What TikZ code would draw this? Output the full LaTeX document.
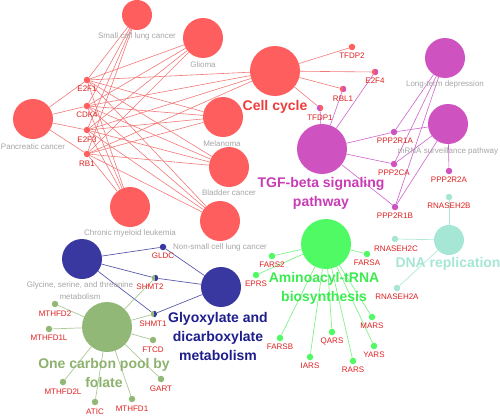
\documentclass[tikz,border=0pt]{standalone}
\usepackage{fontspec}
\setmainfont{Liberation Sans}
\pgfdeclarelayer{bg}
\pgfsetlayers{bg,main}
\definecolor{cred}{RGB}{255,94,94}
\definecolor{cmag}{RGB}{207,82,193}
\definecolor{cgrn}{RGB}{80,250,100}
\definecolor{cteal}{RGB}{165,230,212}
\definecolor{cblue}{RGB}{56,56,160}
\definecolor{coli}{RGB}{146,184,120}
\definecolor{cgene}{RGB}{222,32,32}
\definecolor{cgray}{RGB}{165,165,165}
\definecolor{ered}{RGB}{242,120,120}
\definecolor{emag}{RGB}{205,100,205}
\definecolor{eblue}{RGB}{90,90,170}
\definecolor{egrn}{RGB}{130,240,140}
\definecolor{eoli}{RGB}{170,200,150}
\definecolor{eteal}{RGB}{175,232,218}
\definecolor{tred}{RGB}{240,60,60}
\definecolor{tmag}{RGB}{200,60,180}
\definecolor{tgrn}{RGB}{60,235,80}
\definecolor{tteal}{RGB}{165,230,212}
\definecolor{tblue}{RGB}{30,30,140}
\definecolor{toli}{RGB}{140,178,110}
\tikzset{
  big/.style={circle,inner sep=0pt,minimum size=50pt,fill=#1},
  med/.style={circle,inner sep=0pt,minimum size=40pt,fill=#1},
  sml/.style={circle,inner sep=0pt,minimum size=30pt,fill=#1},
  gdot/.style={circle,inner sep=0pt,minimum size=6.5pt,fill=#1},
  half/.style 2 args={circle,inner sep=0pt,minimum size=6.5pt,fill=#1,
    path picture={\fill[#2] (path picture bounding box.north) rectangle (path picture bounding box.south east);}},
  gl/.style={text=cgene,font=\fontsize{8}{9}\selectfont,inner sep=0pt},
  pl/.style={text=cgray,font=\fontsize{8}{12}\selectfont,inner sep=0pt,align=center},
  tl/.style={text=#1,font=\bfseries\fontsize{14}{19}\selectfont,align=center,inner sep=0pt},
  er/.style={draw=ered,line width=0.6pt},
  em/.style={draw=emag,line width=0.6pt},
  eb/.style={draw=eblue,line width=0.7pt},
  eg/.style={draw=egrn,line width=0.7pt},
  eo/.style={draw=eoli,line width=0.7pt},
  et/.style={draw=eteal,line width=0.7pt},
}
\begin{document}
\begin{tikzpicture}[x=1pt,y=-1pt]
\useasboundingbox (0,0) rectangle (500,415);
% ---- pathway circles
\node[sml=cred] (sclc) at (137,15) {};
\node[med=cred] (gli) at (203,38) {};
\node[med=cred] (pan) at (33,119) {};
\node[med=cred] (mel) at (223,117) {};
\node[med=cred] (bla) at (229,167) {};
\node[med=cred] (cml) at (130,207) {};
\node[med=cred] (nsclc) at (220,221) {};
\node[big=cred] (cc) at (275,71) {};
\node[med=cmag] (ltd) at (445,58) {};
\node[med=cmag] (mrna) at (448,124) {};
\node[big=cmag] (tgf) at (322,149) {};
\node[big=cgrn] (aa) at (326,244) {};
\node[sml=cteal] (dna) at (449,240) {};
\node[med=cblue] (gly) at (82,259) {};
\node[med=cblue] (glx) at (221,287) {};
\node[big=coli] (oc) at (107,327) {};
% ---- gene dots
\node[gdot=cred] (e2f1) at (87,80) {};
\node[gdot=cred] (cdk4) at (87,106) {};
\node[gdot=cred] (e2f3) at (87,130) {};
\node[gdot=cred] (rb1) at (87,154) {};
\node[gdot=cred] (tfdp2) at (352,47) {};
\node[half={cred}{cmag}] (e2f4) at (375,72) {};
\node[half={cred}{cmag}] (rbl1) at (343,89) {};
\node[half={cmag}{cred}] (tfdp1) at (320,108) {};
\node[gdot=cmag] (p1a) at (394,132) {};
\node[gdot=cmag] (pca) at (394,164) {};
\node[gdot=cmag] (p1b) at (395,207) {};
\node[gdot=cmag] (p2a) at (449,171) {};
\node[gdot=cteal] (rn2b) at (449,197) {};
\node[gdot=cteal] (rn2c) at (395,239) {};
\node[gdot=cteal] (rn2a) at (397,288) {};
\node[gdot=cgrn] (fars2) at (272,256) {};
\node[gdot=cgrn] (eprs) at (256,275) {};
\node[gdot=cgrn] (farsa) at (367,254) {};
\node[gdot=cgrn] (mars) at (372,317) {};
\node[gdot=cgrn] (farsb) at (280,338) {};
\node[gdot=cgrn] (qars) at (332,332) {};
\node[gdot=cgrn] (iars) at (310,357) {};
\node[gdot=cgrn] (rars) at (353,361) {};
\node[gdot=cgrn] (yars) at (374,346) {};
\node[gdot=cblue] (gldc) at (163,247) {};
\node[half={coli}{cblue}] (shmt2) at (155,278) {};
\node[half={coli}{cblue}] (shmt1) at (154,314) {};
\node[gdot=coli] (mthfd2) at (55,304) {};
\node[gdot=coli] (mthfd1l) at (49,329) {};
\node[gdot=coli] (ftcd) at (153,340) {};
\node[gdot=coli] (mthfd2l) at (63,382) {};
\node[gdot=coli] (gart) at (161,379) {};
\node[gdot=coli] (atic) at (95,402) {};
\node[gdot=coli] (mthfd1) at (132,399) {};
% ---- edges
\begin{pgfonlayer}{bg}
\foreach \g in {e2f1,cdk4,e2f3,rb1}
  \foreach \p in {sclc,gli,pan,mel,bla,cml,nsclc,cc}
    \draw[er] (\g) -- (\p);
\foreach \g in {tfdp2,e2f4,rbl1,tfdp1} \draw[er] (cc) -- (\g);
\foreach \g in {tfdp1,rbl1,e2f4,p1a,pca,p1b} \draw[em] (tgf) -- (\g);
\foreach \g in {p1a,pca,p1b} \draw[em] (ltd) -- (\g);
\foreach \g in {p1a,pca,p1b,p2a} \draw[em] (mrna) -- (\g);
\foreach \g in {rn2b,rn2c,rn2a} \draw[et] (dna) -- (\g);
\foreach \g in {fars2,eprs,farsa,mars,farsb,qars,iars,rars,yars} \draw[eg] (aa) -- (\g);
\foreach \g in {gldc,shmt2,shmt1} \draw[eb] (gly) -- (\g);
\foreach \g in {gldc,shmt2,shmt1} \draw[eb] (glx) -- (\g);
\foreach \g in {shmt2,shmt1,mthfd2,mthfd1l,ftcd,mthfd2l,gart,atic,mthfd1} \draw[eo] (oc) -- (\g);
\end{pgfonlayer}
% ---- pathway labels (gray)
\node[pl] (lsclc) at (137,36) {Small cell lung cancer};
\node[pl] (lgli) at (203,65) {Glioma};
\node[pl] (lpan) at (33,147) {Pancreatic cancer};
\node[pl] (lmel) at (222,144) {Melanoma};
\node[pl] (lbla) at (229,193) {Bladder cancer};
\node[pl] (lcml) at (130,233) {Chronic myeloid leukemia};
\node[pl] (lnsclc) at (220,247) {Non-small cell lung cancer};
\node[pl] (lltd) at (445,84) {Long-term depression};
\node[pl] (lmrna) at (448,151) {mRNA surveillance pathway};
\node[pl] (lgly) at (80,291) {Glycine, serine, and threonine\\metabolism};
% ---- title labels
\node[tl=tred] (lcc) at (275,107) {Cell cycle};
\node[tl=tmag] (ltgf) at (321,193.5) {TGF-beta signaling\\pathway};
\node[tl=tgrn] (laa) at (324,288.5) {Aminoacyl-tRNA\\biosynthesis};
\node[tl=tteal] (ldna) at (448,264) {DNA replication};
\node[tl=tblue] (lglx) at (218,336) {Glyoxylate and\\dicarboxylate\\metabolism};
\node[tl=toli] (loc) at (104,372.5) {One carbon pool by\\folate};
% ---- gene labels
\node[gl] at (87,89) {E2F1};
\node[gl] at (87,115) {CDK4};
\node[gl] at (87,140) {E2F3};
\node[gl] at (87,164) {RB1};
\node[gl] at (352,56) {TFDP2};
\node[gl] at (375,81) {E2F4};
\node[gl] at (343,99) {RBL1};
\node[gl] at (320,118) {TFDP1};
\node[gl] at (395,141) {PPP2R1A};
\node[gl] at (394,173) {PPP2CA};
\node[gl] at (395,216) {PPP2R1B};
\node[gl] at (449,180) {PPP2R2A};
\node[gl] at (449,206) {RNASEH2B};
\node[gl] at (396,249) {RNASEH2C};
\node[gl] at (397,297) {RNASEH2A};
\node[gl] at (272,265) {FARS2};
\node[gl] at (256,284) {EPRS};
\node[gl] at (367,263) {FARSA};
\node[gl] at (372,326) {MARS};
\node[gl] at (280,347) {FARSB};
\node[gl] at (332,341) {QARS};
\node[gl] at (310,366) {IARS};
\node[gl] at (353,370) {RARS};
\node[gl] at (374,355) {YARS};
\node[gl] at (163,256) {GLDC};
\node[gl] at (150,287) {SHMT2};
\node[gl] at (153,324) {SHMT1};
\node[gl] at (55,314) {MTHFD2};
\node[gl] at (49,338) {MTHFD1L};
\node[gl] at (153,350) {FTCD};
\node[gl] at (63,392) {MTHFD2L};
\node[gl] at (161,389) {GART};
\node[gl] at (95,412) {ATIC};
\node[gl] at (132,409) {MTHFD1};
\end{tikzpicture}
\end{document}
